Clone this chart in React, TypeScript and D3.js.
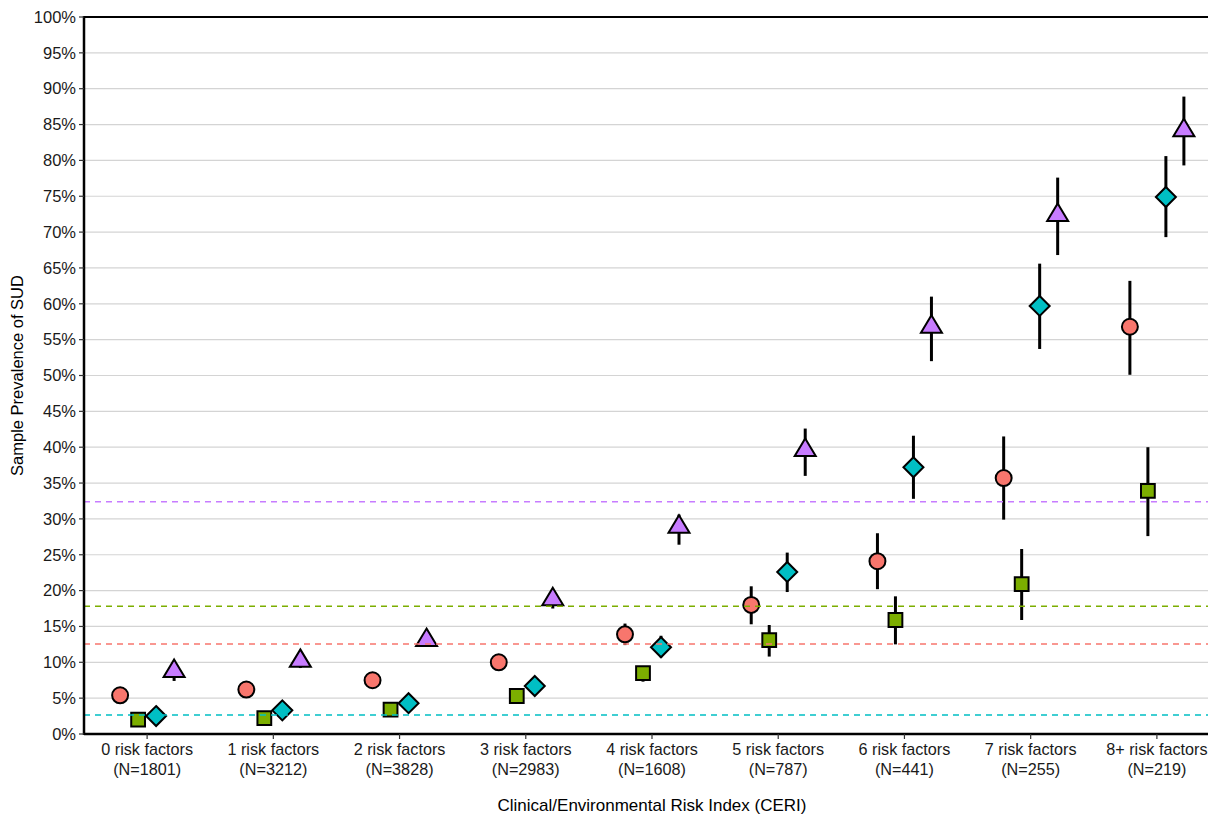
import React from 'react';
import * as d3 from 'd3';

const categories = ['0 risk factors', '1 risk factors', '2 risk factors', '3 risk factors', '4 risk factors',
  '5 risk factors', '6 risk factors', '7 risk factors', '8+ risk factors'];
const sampleSizes = ['N=1801', 'N=3212', 'N=3828', 'N=2983', 'N=1608', 'N=787', 'N=441', 'N=255', 'N=219'];

// prevalence (%) and 95% CI per series
const redVals = [5.4, 6.2, 7.5, 10.0, 13.9, 18.0, 24.1, 35.7, 56.8];
const redLo = [4.8, 5.6, 6.9, 9.3, 12.4, 15.3, 20.2, 29.9, 50.1];
const redHi = [6.0, 6.8, 8.1, 10.7, 15.4, 20.6, 28.0, 41.5, 63.2];

const greenVals = [2.0, 2.2, 3.4, 5.3, 8.5, 13.1, 15.9, 20.9, 33.9];
const greenLo = [1.6, 1.8, 2.9, 4.6, 7.3, 10.8, 12.5, 15.9, 27.6];
const greenHi = [2.4, 2.6, 3.9, 6.0, 9.4, 15.2, 19.2, 25.8, 40.0];

const tealVals = [2.5, 3.3, 4.3, 6.7, 12.1, 22.6, 37.2, 59.7, 74.9];
const tealLo = [2.1, 2.8, 3.8, 6.0, 10.7, 19.8, 32.8, 53.7, 69.3];
const tealHi = [2.9, 3.8, 4.8, 7.4, 13.7, 25.3, 41.6, 65.6, 80.6];

const purpleVals = [8.8, 10.2, 13.1, 18.8, 28.9, 39.6, 56.8, 72.4, 84.2];
const purpleLo = [7.4, 9.2, 12.2, 17.5, 26.4, 36.0, 52.0, 66.8, 79.3];
const purpleHi = [10.2, 11.2, 14.0, 20.1, 30.6, 42.6, 61.0, 77.6, 88.9];

const seriesNames = ['red', 'green', 'teal', 'purple'];
const seriesColors = ['#F8766D', '#7CAE00', '#00BFC4', '#C77CFF'];
const seriesShapes = ['circle', 'square', 'diamond', 'triangle'];
const seriesVals = [redVals, greenVals, tealVals, purpleVals];
const seriesLo = [redLo, greenLo, tealLo, purpleLo];
const seriesHi = [redHi, greenHi, tealHi, purpleHi];

// overall sample prevalence per series (dashed reference lines)
const refLines = [12.55, 17.8, 2.65, 32.4];

const yTicks = d3.range(0, 101, 5);

const W = 1208;
const H = 818;
const margin = { top: 17, right: -12, bottom: 84, left: 84 };
const font = '"Liberation Sans", Arial, Helvetica, sans-serif';

export default function App() {
  const x = d3.scaleBand<string>()
    .domain(categories)
    .range([margin.left, W - margin.right]);
  const y = d3.scaleLinear().domain([0, 100]).range([H - margin.bottom, margin.top]);
  const dodge = d3.scalePoint<string>().domain(seriesNames).range([-27, 27]);

  const cx = (i: number) => (x(categories[i]) as number) + x.bandwidth() / 2;

  const symbolPath = (shape: string) => {
    if (shape === 'circle') return d3.symbol(d3.symbolCircle, 200)();
    if (shape === 'square') return d3.symbol(d3.symbolSquare, 190)();
    if (shape === 'diamond') return 'M0,-10L10,0L0,10L-10,0Z';
    return 'M0,-11.5L10.5,6L-10.5,6Z';
  };

  const x0 = margin.left;
  const x1 = W;
  const yB = y(0);

  return (
    <div style={{ position: 'absolute', left: 0, top: 0 }}>
      <svg width={W} height={H} style={{ display: 'block', background: '#fff' }} fontFamily={font}>
        {/* grid */}
        {yTicks.map(t => (
          <line key={'g' + t} x1={x0} x2={x1} y1={y(t)} y2={y(t)} stroke="#d4d4d4" strokeWidth={1.2} />
        ))}

        {/* error bars */}
        {seriesNames.map((s, si) => (
          <g key={'e' + s}>
            {seriesVals[si].map((_, i) => (
              <line key={i}
                x1={cx(i) + (dodge(s) as number)} x2={cx(i) + (dodge(s) as number)}
                y1={y(seriesLo[si][i])} y2={y(seriesHi[si][i])}
                stroke="#000" strokeWidth={3} />
            ))}
          </g>
        ))}

        {/* markers */}
        {seriesNames.map((s, si) => (
          <g key={'m' + s}>
            {seriesVals[si].map((v, i) => (
              <path key={i} d={symbolPath(seriesShapes[si]) as string}
                transform={`translate(${cx(i) + (dodge(s) as number)},${y(v)})`}
                fill={seriesColors[si]} stroke="#000" strokeWidth={2} strokeLinejoin="miter" />
            ))}
          </g>
        ))}

        {/* reference lines */}
        {refLines.map((r, si) => (
          <line key={'r' + si} x1={x0} x2={x1} y1={y(r)} y2={y(r)}
            stroke={seriesColors[si]} strokeWidth={1.5} strokeDasharray="6,5" />
        ))}

        {/* axes */}
        <line x1={x0} x2={x1} y1={y(100)} y2={y(100)} stroke="#000" strokeWidth={2} />
        <line x1={x0} x2={x1} y1={yB} y2={yB} stroke="#000" strokeWidth={2.5} />
        <line x1={x0} x2={x0} y1={y(100) - 1} y2={yB + 1} stroke="#000" strokeWidth={2.5} />

        {yTicks.map(t => (
          <g key={'yt' + t} transform={`translate(0,${y(t)})`}>
            <line x1={x0 - 5} x2={x0} stroke="#333" strokeWidth={1.2} />
            <text x={x0 - 8} dy="0.35em" textAnchor="end" fontSize={16.5} fill="#1a1a1a">{t}%</text>
          </g>
        ))}

        {categories.map((c, i) => (
          <g key={'xt' + c} transform={`translate(${cx(i)},${yB})`}>
            <line y1={0} y2={5} stroke="#333" strokeWidth={1.2} />
            <text y={21} textAnchor="middle" fontSize={16.2} fill="#1a1a1a">{c}</text>
            <text y={41} textAnchor="middle" fontSize={16.2} fill="#1a1a1a">({sampleSizes[i]})</text>
          </g>
        ))}

        <text x={(margin.left + W - margin.right) / 2} y={811} textAnchor="middle" fontSize={17} fill="#000">
          Clinical/Environmental Risk Index (CERI)
        </text>
        <text transform={`translate(23,${(y(0) + y(100)) / 2}) rotate(-90)`} textAnchor="middle" fontSize={16.5} fill="#000">
          Sample Prevalence of SUD
        </text>
      </svg>
    </div>
  );
}
